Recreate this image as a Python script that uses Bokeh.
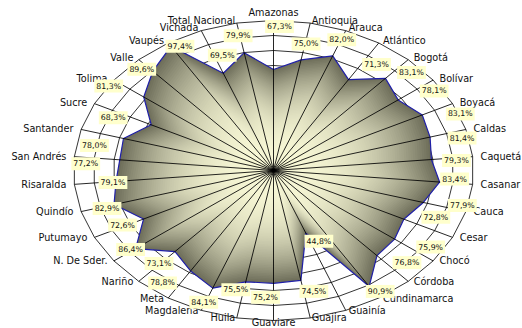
import numpy as np
from bokeh.plotting import figure
from bokeh.models import Range1d, ColumnDataSource
from bokeh.core.properties import value
from bokeh.embed import file_html
from bokeh.resources import INLINE

categories = ["Amazonas", "Antioquia", "Arauca", "Atlántico", "Bogotá", "Bolívar", "Boyacá",
              "Caldas", "Caquetá", "Casanar", "Cauca", "Cesar", "Chocó", "Córdoba",
              "Cundinamarca", "Guainía", "Guajira", "Guaviare", "Huila", "Magdalena", "Meta",
              "Nariño", "N. De Sder.", "Putumayo", "Quindío", "Risaralda", "San Andrés",
              "Santander", "Sucre", "Tolima", "Valle", "Vaupés", "Vichada", "Total Nacional"]
values = [67.3, 75.0, 82.0, 71.3, 83.1, 78.1, 83.1,
          81.4, 79.3, 83.4, 77.9, 72.8, 75.9, 76.8,
          90.9, 44.8, 74.5, 75.2, 75.5, 84.1, 78.8,
          73.1, 86.4, 72.6, 82.9, 79.1, 77.2,
          78.0, 68.3, 81.3, 89.6, 97.4, 69.5, 79.9]
ring_levels = [10, 20, 30, 40, 50, 60, 70, 80, 90, 100]
r_max = 100

# screen-pixel nudges of the data labels (layout only)
label_dx = [6, 5, 9, 28, 26, 36, 38, 32, 25, 15, 39, 32, 36, 30, 11, 13, 13,
            -8, -10, -9, -28, -16, -5, -21, -7, -3, -34, -29, -38, -35, -11, 9, -1, -6]
label_dy = [-43, -16, -16, -15, -6, -9, -1, 1, 1, -3, 3, -2, 8, 7, 5, 8, 11,
            14, 8, 14, 12, 12, 1, 6, 4, 1, 4, 7, -7, -11, -2, 0, -18, -17]

W, H = 522, 328
x0, x1 = -136.5, 124.5
y0, y1 = -105.3333, 113.3333
kx = W / (x1 - x0)
ky = H / (y1 - y0)

p = figure(width=W, height=H, x_range=Range1d(x0, x1), y_range=Range1d(y0, y1),
           x_axis_type=None, y_axis_type=None, output_backend="svg",
           toolbar_location=None, min_border=0)
p.grid.visible = False
p.outline_line_color = None
p.background_fill_color = "white"
p.border_fill_color = "white"

n = len(categories)
theta = np.arange(n) * 2 * np.pi / n
sn, cs = np.sin(theta), np.cos(theta)
v = np.array(values)

# grid rings (under the fill)
ring_xs = [list(r * np.append(sn, sn[0])) for r in ring_levels]
ring_ys = [list(r * np.append(cs, cs[0])) for r in ring_levels]
p.multi_line(ring_xs, ring_ys, line_color="#000000", line_width=0.8)

# radial gradient fill, drawn as nested scaled copies of the data polygon
c_center = np.array([248, 248, 214])
c_edge = np.array([110, 110, 90])
N = 70
gx, gy, gc = [], [], []
for j in range(N, 0, -1):
    k = j / N
    t = k ** 2.5
    c = (c_center + (c_edge - c_center) * t).round().astype(int)
    gx.append(list(k * v * sn))
    gy.append(list(k * v * cs))
    gc.append("#%02x%02x%02x" % tuple(c))
p.patches(gx, gy, fill_color=gc, line_color=None)

# series outline
p.patch(list(v * sn), list(v * cs), fill_color=None, line_color="#1f1fa8", line_width=1.2)

# spokes
p.segment(x0=[0] * n, y0=[0] * n, x1=list(r_max * sn), y1=list(r_max * cs),
          line_color="#000000", line_width=0.85)

# category labels
aligns, lx, ly = [], [], []
y_lo = -(322 - 170) / ky
for i in range(n):
    if abs(sn[i]) < 0.05:
        aligns.append("center")
        ry = 105 if cs[i] > 0 else 104.7
        lx.append(0.0)
        ly.append(max(ry * cs[i], y_lo))
    else:
        aligns.append("left" if sn[i] > 0 else "right")
        ry = 102 if cs[i] > 0 else 100
        lx.append(104 * sn[i])
        ly.append(max(ry * cs[i], y_lo))
cat_src = ColumnDataSource(dict(x=lx, y=ly, text=categories, align=aligns))
p.text(x="x", y="y", text="text", source=cat_src, text_align="align", text_baseline="middle",
       text_font=value("DejaVu Sans"), text_font_size="9.7px", text_color="#111111")

# data labels
dl_x = list(v * sn + np.array(label_dx) / kx)
dl_y = list(v * cs - np.array(label_dy) / ky)
dl_text = [("%.1f" % val).replace(".", ",") + "%" for val in values]
dl_src = ColumnDataSource(dict(x=dl_x, y=dl_y, text=dl_text))
p.text(x="x", y="y", text="text", source=dl_src, text_align="center", text_baseline="middle",
       text_font=value("DejaVu Sans"), text_font_size="7.8px", text_color="#111111",
       background_fill_color="#FFFFCC", padding=2)

open("out.html", "w").write(file_html(p, INLINE))
